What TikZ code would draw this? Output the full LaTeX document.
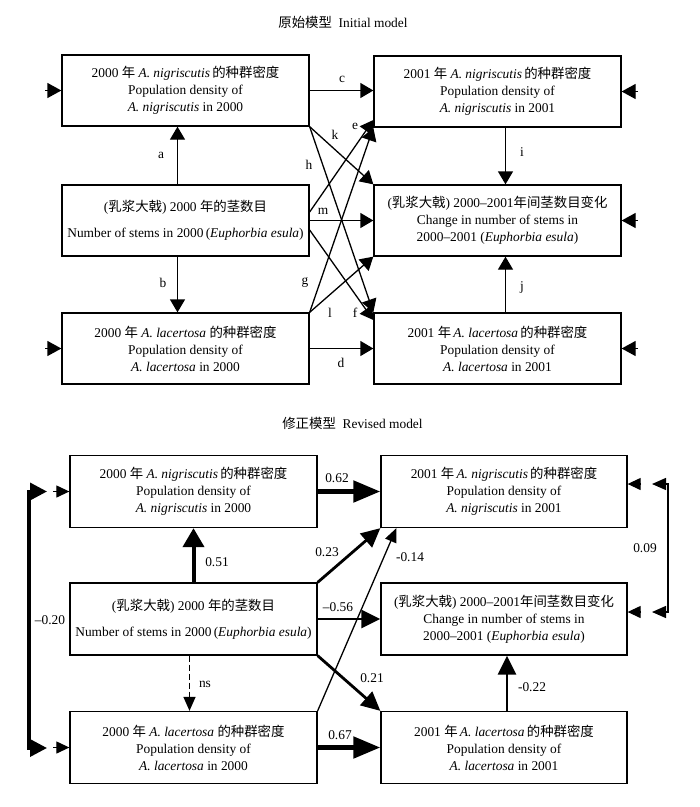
\documentclass[tikz,border=0pt]{standalone}
\usepackage{fontspec}
\setmainfont{Liberation Serif}
\newfontfamily\cjkfont{Noto Sans CJK SC}
\newcommand{\zh}[1]{{\cjkfont #1}}
\newcommand{\bfs}{\fontsize{13.4}{17}\selectfont}
\usetikzlibrary{arrows.meta}
\begin{document}
\begin{tikzpicture}[x=1pt,y=-1pt,
  box/.style={draw, line width=1.3pt, minimum width=247pt, minimum height=71pt, align=center, inner sep=0pt, font=\bfs},
  lab/.style={font=\bfs, inner sep=0pt},
  con/.style={line width=1.3pt, -{Triangle[length=13pt,width=15pt]}},
  err/.style={line width=1.3pt, -{Triangle[length=14pt,width=15pt]}},
  errs/.style={line width=1.2pt, -{Triangle[length=13pt,width=12pt]}},
  bigA/.style={line width=5pt, -{Triangle[length=27pt,width=21pt]}},
  midA/.style={line width=4pt, -{Triangle[length=19pt,width=21pt]}},
  medA/.style={line width=2.8pt, -{Triangle[length=19pt,width=18pt]}},
  thinA/.style={line width=1.3pt, -{Triangle[length=14pt,width=12pt]}},
]
\useasboundingbox (0,0) rectangle (700,807);

% ---------- titles
\node[lab] (t1) at (343,22) {\zh{原始模型}\hspace{0.5em}Initial model};
\node[lab] (t2) at (352.5,423) {\zh{修正模型}\hspace{0.5em}Revised model};

% ---------- top boxes
\node[box] (A) at (185.5,90.5) {2000 \zh{年} \textit{A. nigriscutis}\,\zh{的种群密度}\\Population density of\\\textit{A. nigriscutis} in 2000};
\node[box] (C) at (185.5,220.5) {(\zh{乳浆大戟}) 2000 \zh{年的茎数目}\\[9pt]Number of stems in 2000\,(\textit{Euphorbia esula})};
\node[box] (B) at (185.5,348.5) {2000 \zh{年} \textit{A. lacertosa} \zh{的种群密度}\\Population density of\\\textit{A. lacertosa} in 2000};
\node[box] (D) at (497.5,91.5) {2001 \zh{年} \textit{A. nigriscutis}\,\zh{的种群密度}\\Population density of\\\textit{A. nigriscutis} in 2001};
\node[box] (E) at (497.5,220.5) {(\zh{乳浆大戟}) 2000–2001\zh{年间茎数目变化}\\Change in number of stems in\\2000–2001 (\textit{Euphorbia esula})};
\node[box] (F) at (497.5,348.5) {2001 \zh{年}\,\textit{A. lacertosa}\,\zh{的种群密度}\\Population density of\\\textit{A. lacertosa} in 2001};

% top connectors
\draw[con] ([xshift=-8pt]C.north) -- ([xshift=-8pt]A.south);
\draw[con] ([xshift=-8pt]C.south) -- ([xshift=-8pt]B.north);
\draw[con] (A.east) -- (A.east -| D.west);
\draw[con] (B.east) -- (F.west);
\draw[con] ([xshift=8pt]D.south) -- ([xshift=8pt]E.north);
\draw[con] ([xshift=8pt]F.north) -- ([xshift=8pt]E.south);
\draw[con] (A.south east) -- (E.north west);
\draw[con] (A.south east) -- (F.north west);
\draw[con] ([yshift=8.5pt]C.east) -- ([yshift=-28.5pt]D.west);
\draw[con] (B.north east) -- (D.south west);
\draw[con] (C.east) -- (C.east -| E.west);
\draw[con] ([yshift=-9.5pt]C.east) -- ([yshift=28.5pt]F.west);
\draw[con] (B.north east) -- (E.south west);

% top error arrows
\coordinate (eA) at (45,90.5);
\coordinate (eB) at (45,348.5);
\coordinate (eD) at (638,91.5);
\coordinate (eE) at (638,220.5);
\coordinate (eF) at (638,348.5);
\draw[err] (eA) -- (A.west);
\draw[err] (eB) -- (B.west);
\draw[err] (eD) -- (D.east);
\draw[err] (eE) -- (E.east);
\draw[err] (eF) -- (F.east);

% top labels
\node[lab] (la) at (161,155) {a};
\node[lab] (lb) at (163,283) {b};
\node[lab] (lc) at (342,79) {c};
\node[lab] (ld) at (341,363) {d};
\node[lab] (le) at (355,126) {e};
\node[lab] (lf) at (355,313) {f};
\node[lab] (lg) at (305,283) {g};
\node[lab] (lh) at (309,165) {h};
\node[lab] (li) at (522,152) {i};
\node[lab] (lj) at (522,287) {j};
\node[lab] (lk) at (335,135) {k};
\node[lab] (ll) at (330,313) {l};
\node[lab] (lm) at (323,211) {m};

% ---------- bottom boxes
\node[box,minimum height=72pt] (A2) at (193.5,491.5) {2000 \zh{年} \textit{A. nigriscutis}\,\zh{的种群密度}\\Population density of\\\textit{A. nigriscutis} in 2000};
\node[box,minimum height=72pt] (C2) at (193.5,619) {(\zh{乳浆大戟}) 2000 \zh{年的茎数目}\\[9pt]Number of stems in 2000\,(\textit{Euphorbia esula})};
\node[box,minimum height=72pt] (B2) at (193.5,747.5) {2000 \zh{年} \textit{A. lacertosa} \zh{的种群密度}\\Population density of\\\textit{A. lacertosa} in 2000};
\node[box,minimum height=72pt,minimum width=246pt] (D2) at (504,491.5) {2001 \zh{年}\,\textit{A. nigriscutis}\,\zh{的种群密度}\\Population density of\\\textit{A. nigriscutis} in 2001};
\node[box,minimum height=72pt,minimum width=246pt] (E2) at (504,619) {(\zh{乳浆大戟}) 2000–2001\zh{年间茎数目变化}\\Change in number of stems in\\2000–2001 (\textit{Euphorbia esula})};
\node[box,minimum height=72pt,minimum width=246pt] (F2) at (504,747.5) {2001 \zh{年}\,\textit{A. lacertosa}\,\zh{的种群密度}\\Population density of\\\textit{A. lacertosa} in 2001};

% bottom connectors
\draw[bigA] (A2.east) -- (D2.west);
\draw[bigA] (B2.east) -- (F2.west);
\draw[midA] (C2.north) -- (A2.south);
\draw[thinA, dashed, dash pattern=on 6pt off 3pt] ([xshift=-4pt]C2.south) -- ([xshift=-4pt]B2.north);
\draw[medA] ([xshift=3pt]F2.north) -- ([xshift=3pt]F2.north |- E2.south);
\draw[medA] (C2.north east) -- (D2.south west);
\draw[medA] (C2.east) -- (E2.west);
\draw[medA] (C2.south east) -- (F2.north west);
\draw[thinA] (B2.north east) -- ([xshift=16pt]D2.south west);

% left bracket (-0.20)
\coordinate (bl1) at (47,491.5);
\coordinate (bl2) at (29,491.5);
\coordinate (bl3) at (29,748);
\coordinate (bl4) at (47,748);
\draw[line width=3.5pt, line join=miter, {Triangle[length=17pt,width=17pt]}-{Triangle[length=17pt,width=17pt]}] (bl1) -- (bl2) -- (bl3) -- (bl4);

% right bracket (0.09)
\coordinate (br1) at (652,484);
\coordinate (br2) at (668,484);
\coordinate (br3) at (668,612);
\coordinate (br4) at (652,612);
\draw[line width=1.3pt, {Triangle[length=14pt,width=12pt]}-{Triangle[length=14pt,width=12pt]}] (br1) -- (br2) -- (br3) -- (br4);

% bottom error arrows
\coordinate (eA2) at (53,491.5);
\coordinate (eB2) at (53,747.5);
\coordinate (eD2) at (641,484);
\coordinate (eE2) at (641,612);
\draw[errs] (eA2) -- (A2.west);
\draw[errs] (eB2) -- (B2.west);
\draw[errs] (eD2) -- ([yshift=7.5pt]D2.east);
\draw[errs] (eE2) -- ([yshift=7pt]E2.east);

% bottom labels
\node[lab] (l62) at (337,478) {0.62};
\node[lab] (l67) at (340,735) {0.67};
\node[lab] (l51) at (217,562) {0.51};
\node[lab] (lns) at (205,684) {ns};
\node[lab] (l23) at (327,552) {0.23};
\node[lab] (l14) at (410,557) {-0.14};
\node[lab] (l56) at (338,607) {–0.56};
\node[lab] (l21) at (372,678) {0.21};
\node[lab] (l22) at (532,687) {-0.22};
\node[lab] (l20) at (50,620) {–0.20};
\node[lab] (l09) at (645,548) {0.09};
\end{tikzpicture}
\end{document}
